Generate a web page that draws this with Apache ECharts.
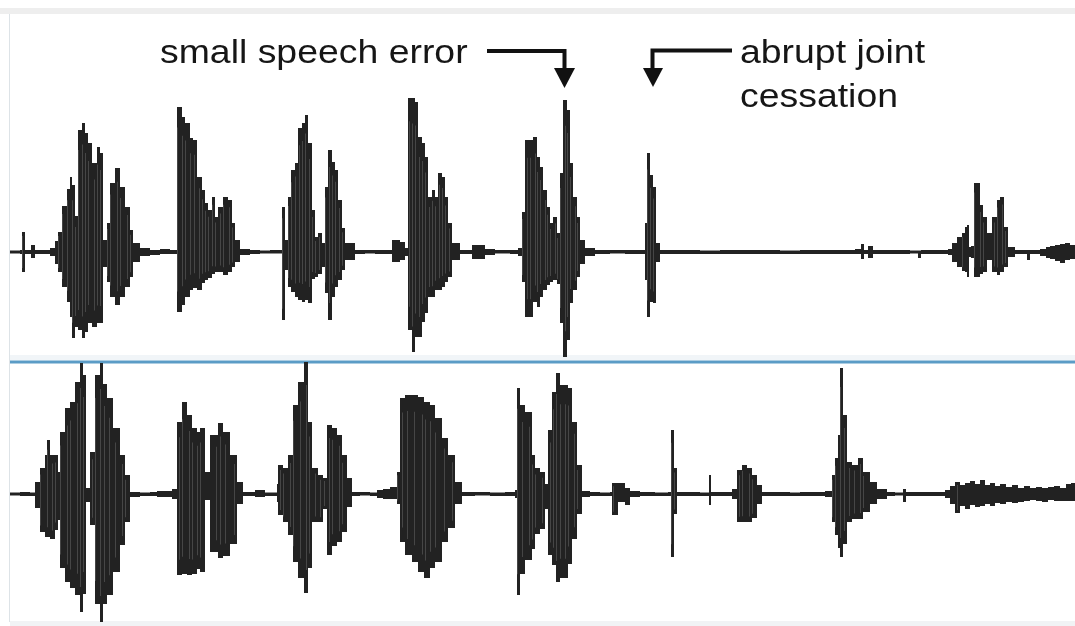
<!DOCTYPE html>
<html><head><meta charset="utf-8">
<script src="https://cdn.jsdelivr.net/npm/echarts@6/dist/echarts.min.js"></script>
<style>html,body{margin:0;padding:0;background:#fff}#c{width:1075px;height:626px}</style>
</head><body><div id="c"></div>
<script>
// Time in frames (one frame per screen column of the original), amplitude in arbitrary units.
const TIME_START = 0;
const TIME_END = 1075;

// Upper channel: [time, upper envelope, lower envelope]
const topEnvelope = [
[10,1.5,-1.5],[20,2,-2],[22,20,-20],[25,2,-2],[31,7,-6],[35,2,-2],[45,2,-2],[50,4,-4],
[55,11,-12],[58,20,-20],[62,46,-35],[67,63,-50],[70,75,-65],[72,67,-86],[75,36,-75],[78,122,-78],[82,129,-86],[85,119,-80],[88,109,-71],[92,89,-75],[97,105,-71],[100,99,-71],[103,12,-15],[107,29,-30],[110,69,-45],[115,84,-53],[120,65,-45],[125,45,-35],[130,22,-25],[133,9,-10],
[140,4,-4],[150,2,-3],[160,3,-2],[170,2,-2],
[177,145,-60],[182,135,-53],[185,129,-45],[190,114,-38],[193,112,-36],[197,75,-38],[202,62,-31],[205,49,-28],[208,42,-26],[212,55,-22],[215,35,-20],[218,45,-20],[223,55,-23],[228,52,-20],[232,29,-15],[235,12,-10],
[240,3,-3],[250,2,-2],[260,1.5,-1.5],[270,2,-1.5],
[282,45,-68],[285,12,-18],[288,55,-35],[291,82,-40],[295,89,-45],[298,124,-48],[302,129,-50],[305,137,-48],[308,109,-51],[312,42,-27],[315,15,-25],[318,19,-22],[322,9,-15],[325,65,-41],[328,102,-68],[332,90,-45],[335,82,-35],[338,52,-28],[342,24,-18],[345,9,-8],
[355,2,-2],[365,2,-1.5],[375,2,-2],[392,12,-10],[400,10,-8],[405,4,-4],
[408,154,-78],[412,154,-100],[415,150,-85],[418,115,-85],[422,109,-70],[425,95,-61],[428,55,-45],[432,62,-45],[435,55,-38],[438,79,-38],[442,75,-35],[445,55,-30],[448,29,-25],[452,9,-8],
[460,2,-2],[472,7,-7],[485,3,-3],[495,2,-1.5],[510,2,-2],[518,4,-4],
[522,40,-30],[525,112,-65],[530,112,-65],[533,115,-50],[537,95,-55],[540,85,-45],[543,62,-38],[547,45,-33],[550,29,-30],[553,35,-28],[557,19,-32],[560,79,-71],[563,152,-105],[567,142,-88],[570,89,-51],[573,55,-38],[577,35,-25],[580,12,-12],
[585,4,-4],[595,2,-2],[610,2,-1.5],[625,2,-2],[640,2,-2],
[645,29,-28],[647,99,-65],[650,77,-50],[653,65,-51],[656,9,-10],
[660,2,-2],[680,2,-2],[700,1.5,-2],[720,2,-2],[740,2,-2],[760,2,-2],[780,1.5,-2],[800,2,-2],[820,2,-2],[840,2,-2],[855,3,-2],[861,8,-7],[864,2,-2],[868,6,-6],[873,2,-2],[890,2,-2],[910,1.5,-1.5],[918,1.5,-6],[921,2,-2],[935,2,-2],[948,3,-3],
[952,9,-10],[957,15,-15],[962,19,-19],[965,25,-20],[967,27,-25],[969,5,-5],[971,6,-6],[974,69,-25],[978,69,-25],[980,47,-22],[983,35,-20],[987,19,-8],[992,35,-20],[997,52,-23],[1000,55,-20],[1004,25,-15],[1008,5,-5],
[1015,2,-2],[1025,2,-2],[1027,2,-8],[1030,2,-2],[1040,3,-4],[1046,5,-6],[1050,6,-7],[1055,7,-9],[1060,8,-11],[1065,9,-8],[1070,7,-7]
];

// Lower channel: [time, upper envelope, lower envelope]
const bottomEnvelope = [
[10,1.5,-1.5],[20,2,-2],[30,1.5,-2],
[35,12,-14],[40,26,-38],[45,39,-43],[47,54,-43],[50,39,-45],[55,39,-36],[58,22,-26],[60,62,-74],[65,86,-88],[70,92,-94],[75,112,-101],[80,131,-118],[83,119,-100],[86,6,-8],[90,42,-31],[95,119,-110],[100,131,-128],[103,110,-110],[107,96,-101],[113,66,-78],[120,39,-51],[125,19,-28],
[130,2,-3],[140,1.5,-2],[150,2,-2],[157,3,-3],[165,3,-3],[172,5,-5],
[177,72,-81],[182,92,-80],[187,79,-81],[192,66,-80],[197,62,-75],[200,66,-78],[205,22,-6],[210,59,-58],[218,71,-64],[223,62,-62],[230,39,-50],[237,12,-10],
[243,2,-2],[255,4,-3],[265,1.5,-2],
[277,10,-8],[278,29,-21],[283,26,-28],[288,39,-41],[293,89,-68],[298,112,-84],[304,132,-99],[308,72,-74],[312,26,-28],[318,19,-28],[323,16,-15],[327,69,-61],[332,66,-52],[337,59,-48],[342,39,-38],[347,16,-13],
[352,2,-2],[360,2,-1.5],[370,1.5,-2],[377,4,-4],[383,5,-5],[390,7,-5],
[397,22,-10],[400,96,-48],[405,99,-61],[412,99,-68],[418,97,-78],[424,92,-84],[430,89,-74],[435,76,-68],[442,56,-48],[448,39,-34],[455,12,-10],
[462,2,-2],[475,2,-1.5],[490,1.5,-2],[505,2,-2],[515,4,-4],
[517,106,-101],[520,89,-80],[525,82,-66],[532,39,-55],[535,26,-40],[540,22,-35],[545,10,-15],[548,64,-61],[552,102,-71],[556,121,-88],[560,109,-84],[565,109,-84],[568,106,-70],[572,72,-45],[577,29,-20],
[582,3,-3],[590,2,-2],[600,1.5,-2],[610,2,-2],[612,11,-21],[618,11,-8],[625,6,-11],[630,3,-3],[640,2,-2],[655,1.5,-2],[668,2,-2],[671,64,-63],[674,26,-20],[677,2,-2],[690,2,-2],[700,1.5,-2],[709,19,-11],[711,2,-2],[725,2,-2],[732,5,-5],
[737,24,-28],[742,29,-28],[747,26,-28],[752,19,-24],[757,9,-10],
[762,2,-2],[775,2,-2],[790,1.5,-2],[800,2,-2],[815,2,-2],[825,3,-3],
[832,19,-28],[835,36,-41],[838,59,-54],[840,126,-63],[843,79,-50],[847,32,-28],[852,29,-25],[858,36,-25],[863,22,-18],[870,12,-10],[877,5,-5],
[887,2,-2],[895,1.5,-1.5],[903,5,-8],[906,2,-2],[920,2,-2],[935,2,-2],[945,4,-4],
[950,8,-10],[955,12,-19],[960,9,-12],[965,11,-15],[970,13,-11],[975,10,-13],[980,14,-12],[985,9,-10],[990,11,-12],[995,8,-9],[1000,10,-10],[1006,7,-8],[1012,9,-9],[1018,6,-8],[1024,8,-7],[1030,6,-6],[1036,7,-7],[1042,6,-8],[1048,7,-6],[1054,8,-7],[1060,6,-7],[1066,10,-7],[1071,11,-7]
];

const topRange = [-155, 155];
const bottomRange = [-131, 131];

const annotationTexts = ['small speech error', 'abrupt joint', 'cessation'];

function toBins(rows) {
  return rows.map((r, i) => [r[0], r[1], r[2], i < rows.length - 1 ? rows[i + 1][0] : TIME_END]);
}

function renderWave(params, api) {
  const t0 = api.value(0), up = api.value(1), lo = api.value(2), t1 = api.value(3);
  const a = api.coord([t0, up]);
  const b = api.coord([t1, lo]);
  const w = Math.max(b[0] - a[0], 1);
  const h = b[1] - a[1];
  const ch = [{type: 'rect', shape: {x: a[0], y: a[1], width: w, height: h}, style: {fill: '#222222'}}];
  if (up - lo > 30 && w >= 3) {
    const off = (params.dataIndex * 2) % Math.max(Math.floor(w) - 1, 1);
    ch.push({type: 'rect', shape: {x: Math.round(a[0]) + off, y: a[1] + h * 0.1, width: 1, height: h * 0.8}, style: {fill: '#464646'}});
  }
  return {type: 'group', children: ch};
}

const chart = echarts.init(document.getElementById('c'), null, {renderer: 'canvas'});
const FONT = '34px "Liberation Sans", Arial, sans-serif';
const SX = 1.1;

chart.setOption({
  animation: false,
  backgroundColor: '#ffffff',
  grid: [
    {left: 0, right: 0, top: 97, height: 310},
    {left: 0, right: 0, top: 363, height: 262}
  ],
  xAxis: [
    {type: 'value', gridIndex: 0, min: TIME_START, max: TIME_END, show: false},
    {type: 'value', gridIndex: 1, min: TIME_START, max: TIME_END, show: false}
  ],
  yAxis: [
    {type: 'value', gridIndex: 0, min: topRange[0], max: topRange[1], show: false},
    {type: 'value', gridIndex: 1, min: bottomRange[0], max: bottomRange[1], show: false}
  ],
  series: [
    {type: 'custom', xAxisIndex: 0, yAxisIndex: 0, renderItem: renderWave, data: toBins(topEnvelope), encode: {x: [0, 3], y: [1, 2]}, z: 3, silent: true},
    {type: 'custom', xAxisIndex: 1, yAxisIndex: 1, renderItem: renderWave, data: toBins(bottomEnvelope), encode: {x: [0, 3], y: [1, 2]}, z: 3, silent: true}
  ],
  graphic: [
    {type: 'rect', z: 0, shape: {x: 0, y: 8, width: 1075, height: 6}, style: {fill: '#eeeeee'}},
    {type: 'line', z: 0, shape: {x1: 9.5, y1: 14, x2: 9.5, y2: 622}, style: {stroke: '#dde3e7', lineWidth: 1}},
    {type: 'rect', z: 0, shape: {x: 10, y: 621, width: 1065, height: 5}, style: {fill: '#f1f3f5'}},
    {type: 'rect', z: 0, shape: {x: 10, y: 355, width: 1065, height: 5}, style: {fill: '#f1f5f8'}},
    {type: 'line', z: 0, shape: {x1: 10, y1: 362, x2: 1075, y2: 362}, style: {stroke: '#5b9cc6', lineWidth: 3}},
    {type: 'text', x: 160, y: 54, scaleX: SX, z: 10, style: {text: annotationTexts[0], font: FONT, fill: '#161616', align: 'left', verticalAlign: 'middle'}},
    {type: 'text', x: 740, y: 54, scaleX: SX, z: 10, style: {text: annotationTexts[1], font: FONT, fill: '#161616', align: 'left', verticalAlign: 'middle'}},
    {type: 'text', x: 740, y: 98, scaleX: SX, z: 10, style: {text: annotationTexts[2], font: FONT, fill: '#161616', align: 'left', verticalAlign: 'middle'}},
    {type: 'polyline', z: 10, shape: {points: [[487, 51], [564.5, 51], [564.5, 70]]}, style: {stroke: '#111', lineWidth: 4, fill: null, lineJoin: 'miter'}},
    {type: 'polygon', z: 10, shape: {points: [[554, 68], [575, 68], [564.5, 88]]}, style: {fill: '#111'}},
    {type: 'polyline', z: 10, shape: {points: [[732, 50.5], [652.5, 50.5], [652.5, 70]]}, style: {stroke: '#111', lineWidth: 4, fill: null, lineJoin: 'miter'}},
    {type: 'polygon', z: 10, shape: {points: [[643, 68], [663, 68], [653, 87]]}, style: {fill: '#111'}}
  ]
});
</script>
</body></html>
